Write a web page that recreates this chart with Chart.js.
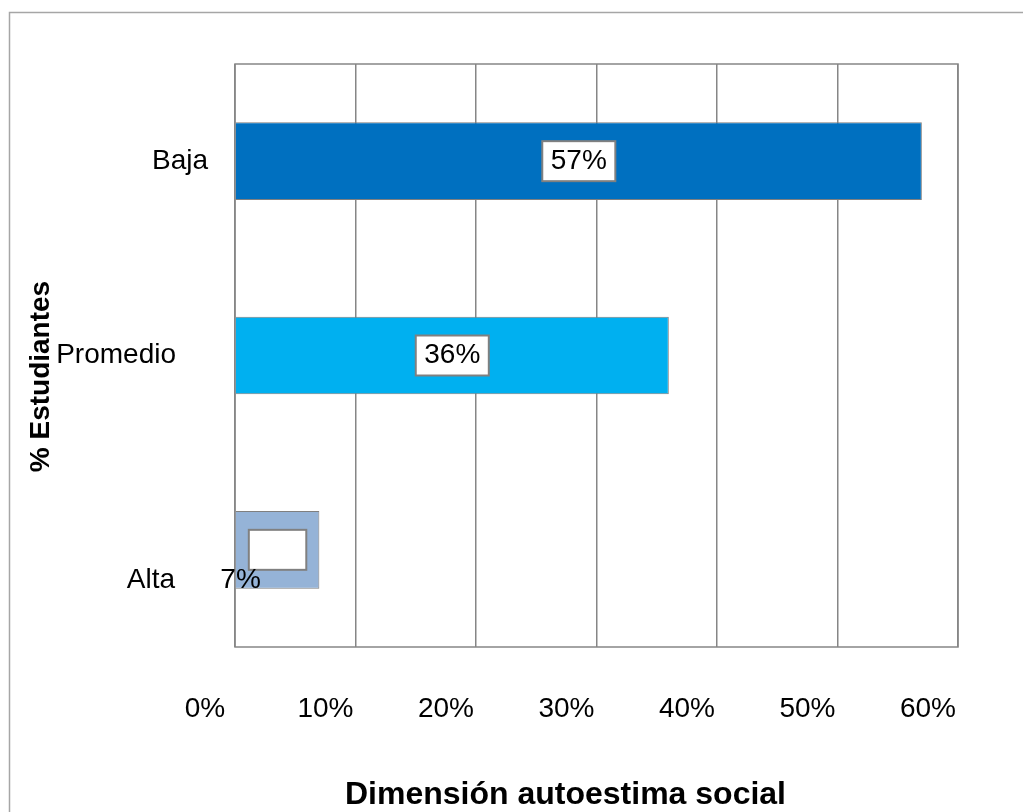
<!DOCTYPE html>
<html>
<head>
<meta charset="utf-8">
<script src="https://cdn.jsdelivr.net/npm/chart.js@4/dist/chart.umd.min.js"></script>
<style>
  body { margin: 0; background: #fff; }
  #wrap { width: 1023px; height: 812px; }
</style>
</head>
<body>
<div id="wrap"><canvas id="chart"></canvas></div>
<script>
// data
var categories = ["Baja", "Promedio", "Alta"];
var percentages = [57, 36, 7];
var barColors = ["#0070C0", "#00B0F0", "#95B3D7"];
var tickMax = 60;
var tickStep = 10;
var xTitle = "Dimensión autoestima social";
var yTitle = "% Estudiantes";

var fontFamily = "'Liberation Sans', Arial, sans-serif";

// outer chart frame + plot border
var framePlugin = {
  id: "frame",
  beforeDraw: function (chart) {
    var ctx = chart.ctx;
    ctx.save();
    ctx.strokeStyle = "#A6A6A6";
    ctx.lineWidth = 1.5;
    ctx.strokeRect(9.5, 12.5, 1200, 1000);
    ctx.restore();
  },
  beforeDatasetsDraw: function (chart) {
    var a = chart.chartArea;
    var ctx = chart.ctx;
    ctx.save();
    ctx.strokeStyle = "#868686";
    ctx.lineWidth = 1.5;
    ctx.strokeRect(a.left, a.top, a.right - a.left, a.bottom - a.top);
    ctx.restore();
  }
};

// axis titles and category labels, placed like the original (a bit uneven)
var axisText = {
  id: "axisText",
  afterDraw: function (chart) {
    var a = chart.chartArea;
    var ctx = chart.ctx;
    var yScale = chart.scales.y;
    ctx.save();
    ctx.fillStyle = "#000";
    ctx.textBaseline = "middle";

    // category labels
    var nudge = [[-27, 0], [-59, 0], [-60, 30]];
    ctx.font = "28px " + fontFamily;
    ctx.textAlign = "right";
    categories.forEach(function (c, i) {
      var y = yScale.getPixelForValue(i);
      ctx.fillText(c, a.left + nudge[i][0], y + nudge[i][1]);
    });

    ctx.textAlign = "center";
    ctx.font = "bold 32px " + fontFamily;
    ctx.fillText(xTitle, (a.left + a.right) / 2 - 31, chart.height - 17);
    ctx.translate(41, (a.top + a.bottom) / 2 + 21);
    ctx.rotate(-Math.PI / 2);
    ctx.font = "bold 28px " + fontFamily;
    ctx.fillText(yTitle, 0, 0);
    ctx.restore();
  }
};

// white boxed value labels in the middle of each bar
var valueLabels = {
  id: "valueLabels",
  afterDatasetsDraw: function (chart) {
    var ctx = chart.ctx;
    var meta = chart.getDatasetMeta(0);
    ctx.save();
    ctx.font = "28px " + fontFamily;
    meta.data.forEach(function (bar, i) {
      var txt = percentages[i] + "%";
      var cx = (bar.x + bar.base) / 2;
      var cy = bar.y;
      var w = ctx.measureText(txt).width + 17;
      var h = 40;
      ctx.fillStyle = "#fff";
      ctx.fillRect(cx - w / 2, cy - h / 2, w, h);
      ctx.strokeStyle = "#808080";
      ctx.lineWidth = 2;
      ctx.strokeRect(cx - w / 2, cy - h / 2, w, h);
      // the small bar's text sits off its box in the original
      var tx = cx, ty = cy;
      if (i === categories.length - 1) { tx = cx - 37; ty = cy + 30; }
      ctx.fillStyle = "#000";
      ctx.textAlign = "center";
      ctx.textBaseline = "middle";
      ctx.fillText(txt, tx, ty);
    });
    ctx.restore();
  }
};

new Chart(document.getElementById("chart"), {
  type: "bar",
  data: {
    labels: categories,
    datasets: [
      {
        data: percentages,
        backgroundColor: barColors,
        borderColor: "#7F7F7F",
        borderWidth: 1,
        barPercentage: 0.4,
        categoryPercentage: 1
      }
    ]
  },
  options: {
    indexAxis: "y",
    responsive: true,
    maintainAspectRatio: false,
    animation: false,
    events: [],
    layout: { padding: { top: 64, right: 65, left: 0, bottom: 0 } },
    plugins: {
      legend: { display: false },
      tooltip: { enabled: false }
    },
    scales: {
      x: {
        min: 0,
        max: tickMax,
        ticks: {
          stepSize: tickStep,
          color: "#000",
          font: { family: fontFamily, size: 28 },
          padding: 45,
          labelOffset: -30,
          callback: function (v) { return v + "%"; }
        },
        grid: { color: "#868686", lineWidth: 1.5, drawTicks: false },
        border: { display: false },
        afterFit: function (scale) {
          scale.height = 165;
          scale.paddingLeft = 0;
          scale.paddingRight = 0;
        }
      },
      y: {
        ticks: { display: false },
        grid: { display: false, drawTicks: false },
        border: { display: false },
        afterFit: function (scale) {
          scale.width = 235;
          scale.paddingTop = 0;
          scale.paddingBottom = 0;
        }
      }
    }
  },
  plugins: [framePlugin, valueLabels, axisText]
});
</script>
</body>
</html>
